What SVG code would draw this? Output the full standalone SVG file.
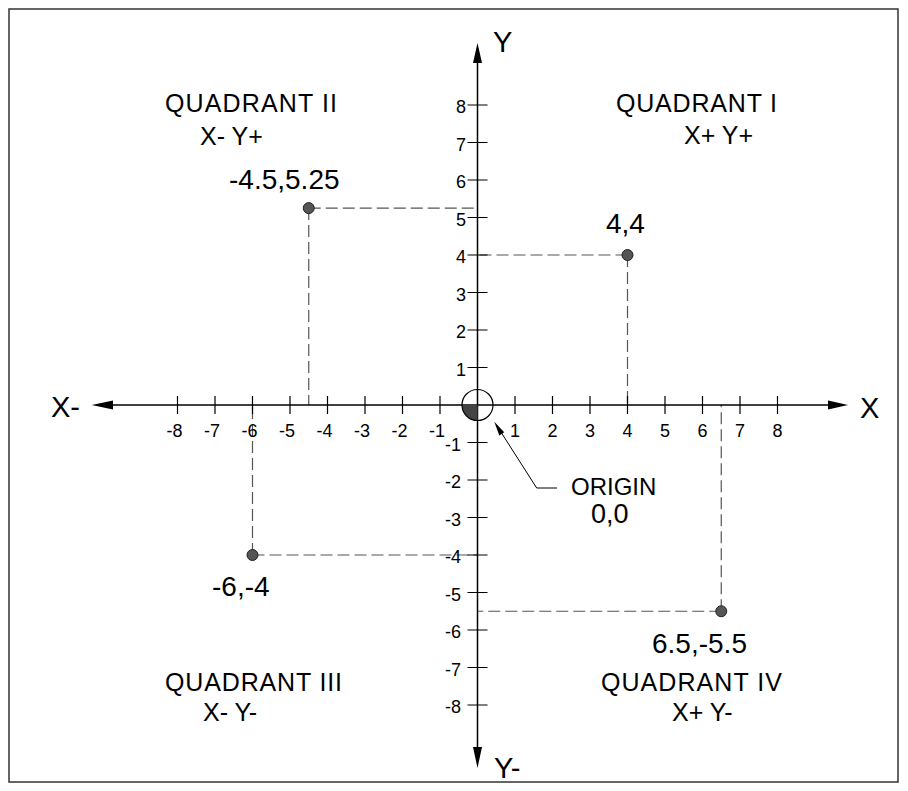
<svg xmlns="http://www.w3.org/2000/svg" width="908" height="791" viewBox="0 0 908 791">
<style>
text{font-family:"Liberation Sans",Arial,sans-serif;fill:#000}
.t{font-size:18px}
.q{font-size:25px}
.p{font-size:28px}
.ax{font-size:29px}
.axis{stroke:#000;stroke-width:1.5;fill:none}
.tick{stroke:#000;stroke-width:1.2}
.dash{stroke:#555;stroke-width:1.2;stroke-dasharray:12 5;fill:none}
.dot{fill:#555;stroke:#222;stroke-width:1}
</style>
<rect id="frame" x="9" y="9" width="889" height="773" fill="#fff" stroke="#333" stroke-width="1.5"/>
<g id="connectors">
<g id="guides">
<path class="dash" d="M308.75,208.1H477.5M308.75,208.1V405"/>
<path class="dash" d="M627.5,255H477.5M627.5,255V405"/>
<path class="dash" d="M252.5,555H477.5M252.5,555V405"/>
<path class="dash" d="M721.25,611.25H477.5M721.25,611.25V405"/>
</g>
<g id="x-axis">
<line class="axis" x1="100" y1="405" x2="840" y2="405"/>
<polygon points="91.7,405 113,400.5 113,409.5" fill="#000"/>
<polygon points="848,405 828,400.5 828,409.5" fill="#000"/>
</g>
<g id="y-axis">
<line class="axis" x1="477.5" y1="50" x2="477.5" y2="760"/>
<polygon points="477.5,43 473,63 482,63" fill="#000"/>
<polygon points="477.5,768 473,747 482,747" fill="#000"/>
</g>
<g id="origin-leader">
<polyline points="498,427.5 536.7,488 557,488" fill="none" stroke="#000" stroke-width="1"/>
<polygon points="494.3,421.7 504.2,432.3 499.3,435.4" fill="#000"/>
</g>
</g>
<g id="ticks">
<path class="tick" d="M177.5,396v18M215,396v18M252.5,396v18M290,396v18M327.5,396v18M365,396v18M402.5,396v18M440,396v18M515,396v18M552.5,396v18M590,396v18M627.5,396v18M665,396v18M702.5,396v18M740,396v18M777.5,396v18"/>
<path class="tick" d="M467.5,105h20M467.5,142.5h20M467.5,180h20M467.5,217.5h20M467.5,255h20M467.5,292.5h20M467.5,330h20M467.5,367.5h20M467.5,442.5h20M467.5,480h20M467.5,517.5h20M467.5,555h20M467.5,592.5h20M467.5,630h20M467.5,667.5h20M467.5,705h20"/>
</g>
<g id="x-tick-labels" class="t">
<text x="182.5" y="437" text-anchor="end">-8</text>
<text x="220" y="437" text-anchor="end">-7</text>
<text x="257.5" y="437" text-anchor="end">-6</text>
<text x="295" y="437" text-anchor="end">-5</text>
<text x="332.5" y="437" text-anchor="end">-4</text>
<text x="370" y="437" text-anchor="end">-3</text>
<text x="407.5" y="437" text-anchor="end">-2</text>
<text x="445" y="437" text-anchor="end">-1</text>
<text x="515" y="437" text-anchor="middle">1</text>
<text x="552.5" y="437" text-anchor="middle">2</text>
<text x="590" y="437" text-anchor="middle">3</text>
<text x="627.5" y="437" text-anchor="middle">4</text>
<text x="665" y="437" text-anchor="middle">5</text>
<text x="702.5" y="437" text-anchor="middle">6</text>
<text x="740" y="437" text-anchor="middle">7</text>
<text x="777.5" y="437" text-anchor="middle">8</text>
</g>
<g id="y-tick-labels" class="t">
<text x="466" y="113" text-anchor="end">8</text>
<text x="466" y="150.5" text-anchor="end">7</text>
<text x="466" y="188" text-anchor="end">6</text>
<text x="466" y="225.5" text-anchor="end">5</text>
<text x="466" y="263" text-anchor="end">4</text>
<text x="466" y="300.5" text-anchor="end">3</text>
<text x="466" y="338" text-anchor="end">2</text>
<text x="466" y="375.5" text-anchor="end">1</text>
<text x="461" y="450.5" text-anchor="end">-1</text>
<text x="461" y="488" text-anchor="end">-2</text>
<text x="461" y="525.5" text-anchor="end">-3</text>
<text x="461" y="563" text-anchor="end">-4</text>
<text x="461" y="600.5" text-anchor="end">-5</text>
<text x="461" y="638" text-anchor="end">-6</text>
<text x="461" y="675.5" text-anchor="end">-7</text>
<text x="461" y="713" text-anchor="end">-8</text>
</g>
<g id="axis-labels" class="ax">
<text x="51" y="417">X-</text>
<text x="860" y="418">X</text>
<text x="493" y="52">Y</text>
<text x="494" y="778">Y-</text>
</g>
<g id="origin">
<path d="M477.5,405H462A15.5,15.5 0 0 0 477.5,420.5Z" fill="#444"/>
<circle cx="477.5" cy="405" r="15.5" fill="none" stroke="#000" stroke-width="1.2"/>
<text x="571" y="495" font-size="24">ORIGIN</text>
<text x="591" y="523" font-size="27">0,0</text>
</g>
<g id="point-a">
<circle class="dot" cx="308.75" cy="208.1" r="5.5"/>
<text x="229" y="189" class="p">-4.5,5.25</text>
</g>
<g id="point-b">
<circle class="dot" cx="627.5" cy="255" r="5.5"/>
<text x="606" y="233" class="p">4,4</text>
</g>
<g id="point-c">
<circle class="dot" cx="252.5" cy="555" r="5.5"/>
<text x="212" y="596" class="p">-6,-4</text>
</g>
<g id="point-d">
<circle class="dot" cx="721.25" cy="611.25" r="5.5"/>
<text x="652" y="653" class="p">6.5,-5.5</text>
</g>
<g id="quadrant-1" class="q">
<text x="616" y="112" textLength="161">QUADRANT I</text>
<text x="684" y="144">X+ Y+</text>
</g>
<g id="quadrant-2" class="q">
<text x="165" y="112" textLength="172">QUADRANT II</text>
<text x="200" y="145">X- Y+</text>
</g>
<g id="quadrant-3" class="q">
<text x="165" y="691" textLength="177">QUADRANT III</text>
<text x="203" y="721">X- Y-</text>
</g>
<g id="quadrant-4" class="q">
<text x="601" y="691" textLength="181">QUADRANT IV</text>
<text x="672" y="721">X+ Y-</text>
</g>
</svg>
